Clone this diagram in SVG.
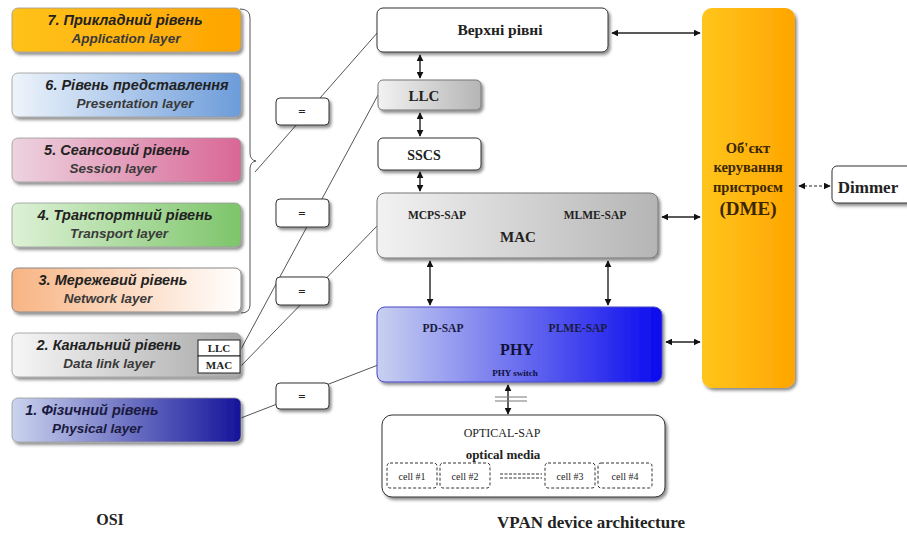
<svg xmlns="http://www.w3.org/2000/svg" width="907" height="536" viewBox="0 0 907 536">
<style>
.osi1{font-family:"Liberation Sans",Arial,sans-serif;font-weight:bold;font-style:italic;font-size:14.5px;fill:#222;text-anchor:middle}
.osi2{font-family:"Liberation Sans",Arial,sans-serif;font-weight:bold;font-style:italic;font-size:13.5px;fill:#3a3a3a;text-anchor:middle}
.sr{font-family:"Liberation Serif","Times New Roman",serif;font-weight:bold;fill:#222;text-anchor:middle}
.box{stroke:#333;stroke-width:1}
.obox{stroke:#999;stroke-width:0.8}
.ln{stroke:#555;stroke-width:1;fill:none}
.arr{stroke:#222;stroke-width:1.4;fill:none;marker-start:url(#ah);marker-end:url(#ah)}
.cell{fill:none;stroke:#333;stroke-width:1;stroke-dasharray:3 2}
</style>
<defs>
<marker id="ah" viewBox="0 0 10 10" refX="9" refY="5" markerWidth="7" markerHeight="7" orient="auto-start-reverse" markerUnits="userSpaceOnUse"><path d="M0,0 L10,5 L0,10 z" fill="#111"/></marker>
<filter id="sh" x="-10%" y="-10%" width="125%" height="135%"><feDropShadow dx="2" dy="2.5" stdDeviation="1.5" flood-color="#000" flood-opacity="0.45"/></filter>
<linearGradient id="g7" x1="0" x2="1"><stop offset="0" stop-color="#FFC21A"/><stop offset="1" stop-color="#FFA502"/></linearGradient>
<linearGradient id="g6" x1="0" x2="1"><stop offset="0" stop-color="#EEF4FB"/><stop offset="1" stop-color="#6C9CDA"/></linearGradient>
<linearGradient id="g5" x1="0" x2="1"><stop offset="0" stop-color="#EDD3DF"/><stop offset="1" stop-color="#D96796"/></linearGradient>
<linearGradient id="g4" x1="0" x2="1"><stop offset="0" stop-color="#DDF1D6"/><stop offset="1" stop-color="#7DC56A"/></linearGradient>
<linearGradient id="g3" x1="0" x2="1"><stop offset="0" stop-color="#F8B483"/><stop offset="1" stop-color="#FFFFFF"/></linearGradient>
<linearGradient id="g2" x1="0" x2="1"><stop offset="0" stop-color="#F6F6F6"/><stop offset="1" stop-color="#A8A8A8"/></linearGradient>
<linearGradient id="g1" x1="0" x2="1"><stop offset="0" stop-color="#CBD4EE"/><stop offset="1" stop-color="#14149A"/></linearGradient>
<linearGradient id="ggray" x1="0" x2="1"><stop offset="0" stop-color="#F2F2F2"/><stop offset="1" stop-color="#B5B5B5"/></linearGradient>
<linearGradient id="gphy" x1="0" x2="1"><stop offset="0" stop-color="#C9D1F0"/><stop offset="1" stop-color="#0A0AEE"/></linearGradient>
<linearGradient id="gdme" x1="0" x2="1"><stop offset="0" stop-color="#FFC51C"/><stop offset="1" stop-color="#FFA500"/></linearGradient>
</defs>

<g id="connectors">
<path class="ln" d="M240,9 Q250,9 250,18 L250,153 Q250,160 256,161 Q250,162 250,169 L250,305 Q250,313 241,313"/>
<line class="ln" x1="255" y1="172" x2="378" y2="32"/>
<line class="ln" x1="241" y1="349" x2="378" y2="95"/>
<line class="ln" x1="241" y1="366" x2="378" y2="225"/>
<line class="ln" x1="241" y1="418" x2="378" y2="365"/>
<line class="arr" x1="420" y1="55" x2="420" y2="78"/>
<line class="arr" x1="420" y1="113" x2="420" y2="136"/>
<line class="arr" x1="420" y1="172" x2="420" y2="191"/>
<line class="arr" x1="430" y1="261" x2="430" y2="305"/>
<line class="arr" x1="608" y1="261" x2="608" y2="305"/>
<line class="arr" x1="612" y1="33" x2="700" y2="33"/>
<line class="arr" x1="662" y1="217" x2="700" y2="217"/>
<line class="arr" x1="666" y1="342" x2="700" y2="342"/>
<line class="arr" x1="508" y1="385" x2="508" y2="414"/>
<line x1="495" y1="397" x2="527" y2="397" stroke="#777" stroke-width="1"/>
<line x1="495" y1="401" x2="527" y2="401" stroke="#777" stroke-width="1"/>
<line x1="799" y1="186" x2="830" y2="186" stroke="#222" stroke-width="1.2" stroke-dasharray="3 2" marker-start="url(#ah)" marker-end="url(#ah)"/>
</g>

<g id="osi7"><rect x="12" y="8" width="229" height="44" rx="6" fill="url(#g7)" class="obox" filter="url(#sh)"/><text class="osi1" x="125" y="25">7. Прикладний рівень</text><text class="osi2" x="126" y="43">Application layer</text></g>
<g id="osi6"><rect x="12" y="73" width="229" height="44" rx="6" fill="url(#g6)" class="obox" filter="url(#sh)"/><text class="osi1" x="137" y="90">6. Рівень  представлення</text><text class="osi2" x="135" y="108">Presentation layer</text></g>
<g id="osi5"><rect x="12" y="138" width="229" height="44" rx="6" fill="url(#g5)" class="obox" filter="url(#sh)"/><text class="osi1" x="117" y="155">5. Сеансовий рівень</text><text class="osi2" x="113" y="173">Session layer</text></g>
<g id="osi4"><rect x="12" y="203" width="229" height="44" rx="6" fill="url(#g4)" class="obox" filter="url(#sh)"/><text class="osi1" x="125" y="220">4. Транспортний рівень</text><text class="osi2" x="119" y="238">Transport layer</text></g>
<g id="osi3"><rect x="12" y="268" width="229" height="44" rx="6" fill="url(#g3)" stroke="#888" stroke-width="1" filter="url(#sh)"/><text class="osi1" x="113" y="285">3. Мережевий  рівень</text><text class="osi2" x="108" y="303">Network  layer</text></g>
<g id="osi2"><rect x="12" y="333" width="229" height="44" rx="6" fill="url(#g2)" class="obox" filter="url(#sh)"/><text class="osi1" x="109" y="350">2. Канальний  рівень</text><text class="osi2" x="109" y="368">Data link  layer</text>
<rect x="198" y="340" width="42" height="16" fill="#fff" stroke="#222" stroke-width="1"/><text class="sr" x="219" y="352" font-size="11">LLC</text>
<rect x="198" y="356" width="42" height="17" fill="#fff" stroke="#222" stroke-width="1"/><text class="sr" x="219" y="369" font-size="11">MAC</text></g>
<g id="osi1"><rect x="12" y="398" width="229" height="44" rx="6" fill="url(#g1)" class="obox" filter="url(#sh)"/><text class="osi1" x="92" y="415" style="fill:#1a1a40">1. Фізичний рівень</text><text class="osi2" x="97" y="433" style="fill:#1a1a40">Physical  layer</text></g>

<g id="eq1"><rect x="276" y="98" width="53" height="27" rx="4" fill="#fff" class="box" filter="url(#sh)"/><text class="sr" x="302" y="116" font-size="13">=</text></g>
<g id="eq2"><rect x="276" y="199" width="53" height="28" rx="4" fill="#fff" class="box" filter="url(#sh)"/><text class="sr" x="302" y="218" font-size="13">=</text></g>
<g id="eq3"><rect x="276" y="277" width="53" height="28" rx="4" fill="#fff" class="box" filter="url(#sh)"/><text class="sr" x="302" y="296" font-size="13">=</text></g>
<g id="eq4"><rect x="276" y="383" width="53" height="26" rx="4" fill="#fff" class="box" filter="url(#sh)"/><text class="sr" x="302" y="401" font-size="13">=</text></g>

<g id="upper"><rect x="377" y="8" width="231" height="44" rx="6" fill="#fff" class="box" filter="url(#sh)"/><text class="sr" x="500" y="35" font-size="15.5">Верхні рівні</text></g>
<g id="llc"><rect x="378" y="80" width="103" height="30" rx="5" fill="url(#ggray)" stroke="#777" stroke-width="1" filter="url(#sh)"/><text class="sr" x="424" y="101" font-size="15">LLC</text></g>
<g id="sscs"><rect x="378" y="138" width="103" height="32" rx="5" fill="#fff" class="box" filter="url(#sh)"/><text class="sr" x="424" y="160" font-size="14">SSCS</text></g>
<g id="mac"><rect x="377" y="193" width="281" height="65" rx="8" fill="url(#ggray)" stroke="#777" stroke-width="1" filter="url(#sh)"/>
<text class="sr" x="437" y="219" font-size="11.5">MCPS-SAP</text><text class="sr" x="595" y="219" font-size="11.5">MLME-SAP</text><text class="sr" x="518" y="242" font-size="15">MAC</text></g>
<g id="phy"><rect x="377" y="307" width="285" height="75" rx="8" fill="url(#gphy)" stroke="#4848c8" stroke-width="1" filter="url(#sh)"/>
<text class="sr" x="443" y="332" font-size="11.5" style="fill:#1a1a40">PD-SAP</text><text class="sr" x="578" y="332" font-size="11.5" style="fill:#1a1a40">PLME-SAP</text><text class="sr" x="517" y="355" font-size="16" style="fill:#10103a">PHY</text><text class="sr" x="515" y="376" font-size="9" style="fill:#10103a">PHY switch</text></g>
<g id="optical"><rect x="382" y="415" width="283" height="82" rx="10" fill="#fff" class="box" filter="url(#sh)"/>
<text class="sr" x="502" y="437" font-size="12" style="font-weight:normal">OPTICAL-SAP</text><text class="sr" x="503" y="459" font-size="13">optical media</text>
<rect class="cell" x="387" y="463" width="50" height="25" rx="3"/><text class="sr" x="412" y="480" font-size="10" style="font-weight:normal">cell #1</text>
<rect class="cell" x="440" y="463" width="50" height="25" rx="3"/><text class="sr" x="465" y="480" font-size="10" style="font-weight:normal">cell #2</text>
<line x1="500" y1="474" x2="542" y2="474" stroke="#333" stroke-dasharray="3 1.5"/><line x1="500" y1="478" x2="542" y2="478" stroke="#333" stroke-dasharray="3 1.5"/>
<rect class="cell" x="545" y="463" width="50" height="25" rx="3"/><text class="sr" x="570" y="480" font-size="10" style="font-weight:normal">cell #3</text>
<rect class="cell" x="598" y="463" width="54" height="25" rx="3"/><text class="sr" x="625" y="480" font-size="10" style="font-weight:normal">cell #4</text></g>
<g id="dme"><rect x="702" y="8" width="93" height="380" rx="10" fill="url(#gdme)" filter="url(#sh)"/>
<text class="sr" x="748" y="153" font-size="14.5" style="fill:#3a2600">Об'єкт</text><text class="sr" x="748" y="172" font-size="14.5" style="fill:#3a2600">керування</text><text class="sr" x="748" y="192" font-size="14.5" style="fill:#3a2600">пристроєм</text><text class="sr" x="748" y="215" font-size="19" style="fill:#3a2600">(DME)</text></g>
<g id="dimmer"><rect x="832" y="166" width="80" height="37" rx="5" fill="#fff" class="box" filter="url(#sh)"/><text class="sr" x="868" y="193" font-size="17">Dimmer</text></g>
<text class="sr" x="110" y="525" font-size="16">OSI</text>
<text class="sr" x="591" y="528" font-size="17">VPAN device architecture</text>
</svg>
